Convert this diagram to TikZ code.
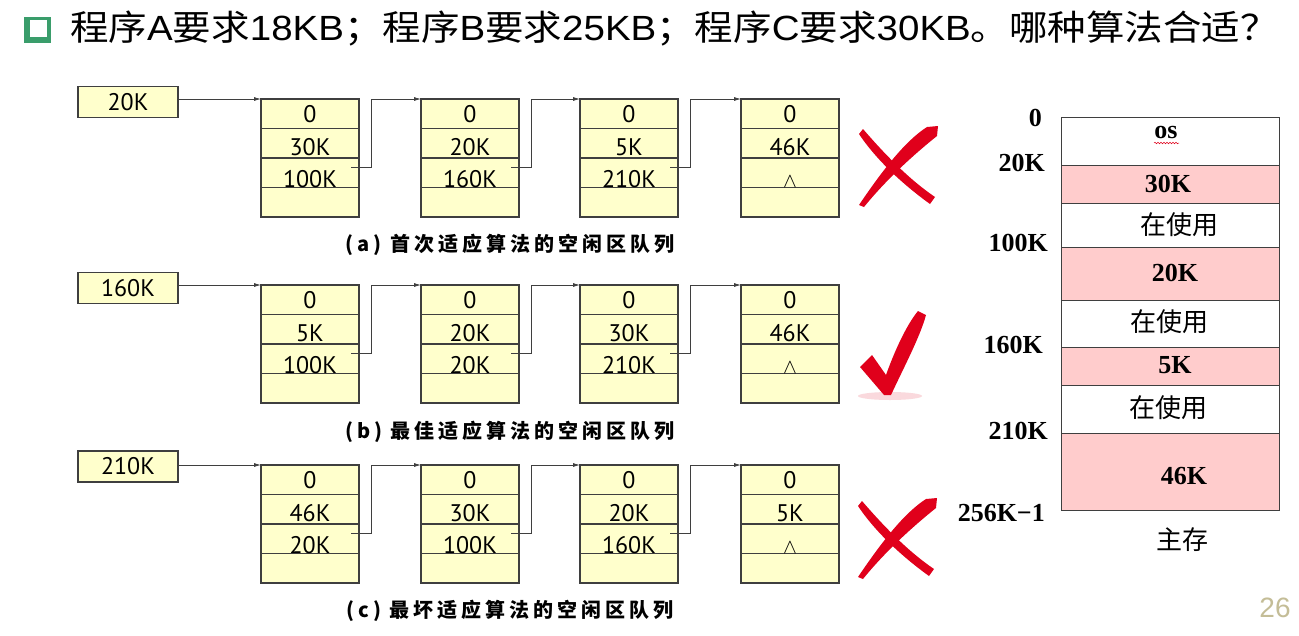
\documentclass[tikz,border=0pt]{standalone}
\usepackage{fontspec}
\setmainfont{Liberation Serif}
\newfontfamily\cjk{Noto Sans CJK SC}
\newfontfamily\cjkcap{Noto Sans CJK SC}[LetterSpace=20]
\newfontfamily\lsans{Liberation Sans}
\newfontfamily\psans{PT Sans}
\newfontfamily\tserif{Liberation Serif}
\usetikzlibrary{calc,arrows.meta,decorations.pathmorphing}
\definecolor{yfill}{HTML}{FFFFCC}
\definecolor{bdraw}{HTML}{3F3F3F}
\definecolor{pinkf}{HTML}{FFCCCC}
\definecolor{tgreen}{HTML}{3A9D6B}
\definecolor{mred}{HTML}{E0001B}
\definecolor{tan}{HTML}{C4BD97}
\tikzset{
  blk/.style={draw=bdraw, line width=1.2pt, fill=yfill, minimum width=98pt, minimum height=118pt, inner sep=0pt, outer sep=0pt},
  blkln/.style={draw=bdraw, line width=1.1pt},
  btxt/.style={font=\psans\fontsize{24}{24}\selectfont, anchor=base, inner sep=0pt},
  headbox/.style={draw=bdraw, line width=1.2pt, fill=yfill, minimum width=100pt, minimum height=31pt, inner sep=0pt, outer sep=0pt, font=\psans\fontsize{24}{24}\selectfont},
  conn/.style={draw=bdraw, line width=0.8pt, -{Latex[length=7pt,width=4pt]}},
  capt/.style={font=\cjkcap\bfseries\fontsize{20}{20}\selectfont, inner sep=0pt},
  mlab/.style={font=\tserif\bfseries\fontsize{26}{26}\selectfont, inner sep=0pt, anchor=east},
  mseg/.style={draw=bdraw, line width=0.9pt, minimum width=218pt, inner sep=0pt, outer sep=0pt},
  mtxtb/.style={font=\tserif\bfseries\fontsize{26}{26}\selectfont, inner sep=0pt},
  mtxtc/.style={font=\cjk\fontsize{26}{26}\selectfont, inner sep=0pt},
}
\newcommand\fblk[6]{%
  \node[blk] (#1) at (#2+49,#3+59) {};
  \draw[blkln] (#2,#3+29.5) -- (#2+98,#3+29.5) (#2,#3+59) -- (#2+98,#3+59) (#2,#3+88.5) -- (#2+98,#3+88.5);
  \node[btxt] at (#2+49,#3+23) {#4};
  \node[btxt] at (#2+49,#3+56) {#5};
  \node[btxt] at (#2+49,#3+88) {#6};
}
\newcommand\xmk[2]{%
  \begin{scope}[shift={(#1,#2)}]
    \fill[mred] (-34,-37) .. controls (-15,-15) and (10,12) .. (38,31) -- (33,38) .. controls (8,20) and (-20,-5) .. (-38,-32) -- cycle;
    \fill[mred] (30,-39) -- (41,-40) -- (40,-30) .. controls (15,-10) and (-12,15) .. (-33,41) -- (-38,39) .. controls (-15,5) and (8,-25) .. (30,-39) -- cycle;
  \end{scope}}
\newcommand\ckmk[2]{%
  \begin{scope}[shift={(#1,#2)}]
    \fill[mred, opacity=0.15] (2,1) ellipse [x radius=32pt, y radius=4pt];
    \fill[mred] (-28,-28) -- (-16,-40) -- (-2,-20) .. controls (8,-48) and (20,-72) .. (30,-84) -- (38,-80) .. controls (32,-58) and (16,-28) .. (3,0) -- (-4,0) -- cycle;
  \end{scope}}
\newcommand\lam{\fontsize{20}{20}\selectfont$\wedge$}
\begin{document}
\begin{tikzpicture}[x=1pt,y=-1pt]
\useasboundingbox (0,0) rectangle (1299,635);
\fill[white] (0,0) rectangle (1299,635);
% title
\fill[tgreen] (24,17) rectangle (51,43);
\fill[white] (30,20) rectangle (47,37);
\node[anchor=base west, inner sep=0pt, font=\lsans\fontsize{35}{35}\selectfont] (title) at (70,40)
  {\scalebox{1.1}[1]{{\cjk 程序}A{\cjk 要求}18KB{\cjk ；程序}B{\cjk 要求}25KB{\cjk ；程序}C{\cjk 要求}30KB{\cjk 。哪种算法合适？}}};
% row a
\node[headbox] (ha) at (128,102) {20K};
\fblk{a1}{261}{99}{0}{30K}{100K}
\fblk{a2}{421}{99}{0}{20K}{160K}
\fblk{a3}{580}{99}{0}{5K}{210K}
\fblk{a4}{741}{99}{0}{46K}{\lam}
\draw[conn] (ha.east |- a1.north west) -- (a1.north west);
\draw[conn] ($(a1.east)+(-8,9)$) -- ++(20,0) |- (a2.north west);
\draw[conn] ($(a2.east)+(-8,9)$) -- ++(20,0) |- (a3.north west);
\draw[conn] ($(a3.east)+(-8,9)$) -- ++(20,0) |- (a4.north west);
\node[capt] (capa) at (510,245) {(a) 首次适应算法的空闲区队列};
% row b
\node[headbox] (hb) at (128,288) {160K};
\fblk{b1}{261}{285}{0}{5K}{100K}
\fblk{b2}{421}{285}{0}{20K}{20K}
\fblk{b3}{580}{285}{0}{30K}{210K}
\fblk{b4}{741}{285}{0}{46K}{\lam}
\draw[conn] (hb.east |- b1.north west) -- (b1.north west);
\draw[conn] ($(b1.east)+(-8,9)$) -- ++(20,0) |- (b2.north west);
\draw[conn] ($(b2.east)+(-8,9)$) -- ++(20,0) |- (b3.north west);
\draw[conn] ($(b3.east)+(-8,9)$) -- ++(20,0) |- (b4.north west);
\node[capt] (capb) at (510,432) {(b) 最佳适应算法的空闲区队列};
% row c
\node[headbox] (hc) at (128,466.5) {210K};
\fblk{c1}{261}{465}{0}{46K}{20K}
\fblk{c2}{421}{465}{0}{30K}{100K}
\fblk{c3}{580}{465}{0}{20K}{160K}
\fblk{c4}{741}{465}{0}{5K}{\lam}
\draw[conn] (hc.east |- c1.north west) -- (c1.north west);
\draw[conn] ($(c1.east)+(-8,9)$) -- ++(20,0) |- (c2.north west);
\draw[conn] ($(c2.east)+(-8,9)$) -- ++(20,0) |- (c3.north west);
\draw[conn] ($(c3.east)+(-8,9)$) -- ++(20,0) |- (c4.north west);
\node[capt] (capc) at (510,611) {(c) 最坏适应算法的空闲区队列};
% marks
\xmk{897}{166}
\ckmk{888}{395}
\xmk{896}{538}
% memory map
\node[mseg, fill=white, minimum height=48pt] (m0) at (1170,141) {};
\node[mseg, fill=pinkf, minimum height=38pt] (m1) at (1170,184) {};
\node[mseg, fill=white, minimum height=44pt] (m2) at (1170,225) {};
\node[mseg, fill=pinkf, minimum height=53pt] (m3) at (1170,273.5) {};
\node[mseg, fill=white, minimum height=47pt] (m4) at (1170,323.5) {};
\node[mseg, fill=pinkf, minimum height=38pt] (m5) at (1170,366) {};
\node[mseg, fill=white, minimum height=48pt] (m6) at (1170,409) {};
\node[mseg, fill=pinkf, minimum height=77pt] (m7) at (1170,471.5) {};
\node[mtxtb] (tos) at (1166,132) {os};
\draw[mred, line width=0.5pt, decorate, decoration={snake, amplitude=0.8pt, segment length=3pt}] (1154,143) -- (1179,143);
\node[mtxtb] at (1168,184) {30K};
\node[mtxtc] at (1179,225) {在使用};
\node[mtxtb] at (1175,273) {20K};
\node[mtxtc] at (1169,322) {在使用};
\node[mtxtb] at (1175,365) {5K};
\node[mtxtc] at (1168,408) {在使用};
\node[mtxtb] at (1184,476) {46K};
\node[mtxtc] (zc) at (1182,540) {主存};
\node[mlab] (l0) at (1042,118) {0};
\node[mlab] (l1) at (1045,163) {20K};
\node[mlab] (l2) at (1048,243) {100K};
\node[mlab] (l3) at (1043,345) {160K};
\node[mlab] (l4) at (1048,431) {210K};
\node[mlab] (l5) at (1045,513) {256K−1};
\node[font=\lsans\fontsize{28}{28}\selectfont, text=tan, inner sep=0pt] (pg) at (1275,608) {26};
\end{tikzpicture}
\end{document}
